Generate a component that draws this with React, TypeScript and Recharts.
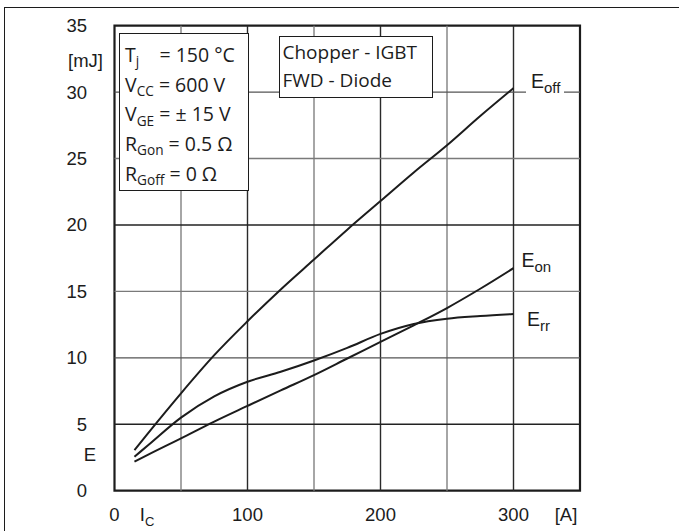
import {
  LineChart,
  Line,
  XAxis,
  YAxis,
  ReferenceLine,
  ReferenceArea,
} from 'recharts';

// collector current I_C [A]
const ic = [15, 25, 50, 75, 100, 125, 150, 175, 200, 225, 250, 275, 300];
// switching energies [mJ]
const eoff = [3.06, 4.3, 7.33, 10.2, 12.75, 15.15, 17.4, 19.65, 21.8, 23.95, 26.0, 28.2, 30.3];
const eon = [2.18, 2.7, 3.94, 5.2, 6.38, 7.55, 8.7, 9.95, 11.2, 12.45, 13.75, 15.2, 16.75];
const err = [2.56, 3.4, 5.5, 7.1, 8.2, 8.95, 9.8, 10.75, 11.8, 12.55, 12.95, 13.15, 13.3];

const xTicks = [0, 100, 200, 300];
const yTicks = [0, 5, 10, 15, 20, 25, 30, 35];
const xGrid = [50, 100, 150, 200, 250, 300];
const yGrid = [5, 10, 15, 20, 25, 30];

// where the axis names sit, in data units
const xNameAt = 25;
const xUnitAt = 339.5;
const yNameAt = 2.7;
const yUnitAt = 32.35;

const data = ic.map((x, i) => ({ ic: x, eoff: eoff[i], eon: eon[i], err: err[i] }));

const ink = '#1c1c1c';
const axisFont = '"Liberation Sans", Arial, sans-serif';
const boxFont = '"Open Sans", sans-serif';

const gridColor = (v: number, horizontal: boolean) => {
  if (horizontal) {
    if (v === 5 || v === 20) return '#222';
    if (v === 10 || v === 30) return '#555';
    return '#7a7a7a';
  }
  return v % 100 === 0 ? '#2a2a2a' : '#808080';
};

const XTick = ({ x, y, payload }: any) => {
  const v = payload.value;
  if (v === xNameAt) {
    return (
      <text x={x - 8} y={y + 24} dy="0.35em" fontSize={18.5} fontFamily={axisFont} fill={ink}>
        I<tspan fontSize={13} dy={5}>C</tspan>
      </text>
    );
  }
  return (
    <text x={x} y={y + 24} dy="0.35em" textAnchor="middle" fontSize={18.5} fontFamily={axisFont} fill={ink}>
      {v === xUnitAt ? '[A]' : v}
    </text>
  );
};

const YTick = ({ x, y, payload }: any) => {
  const v = payload.value;
  let label: string = String(v);
  let dx = -27.5;
  if (v === yUnitAt) {
    label = '[mJ]';
    dx = -11.5;
  } else if (v === yNameAt) {
    label = 'E';
    dx = -18.5;
  }
  return (
    <text x={x + dx} y={y} dy="0.35em" textAnchor="end" fontSize={18.5} fontFamily={axisFont} fill={ink}>
      {label}
    </text>
  );
};

const Sub = ({ children }: { children: any }) => (
  <span style={{ fontSize: '0.7em', position: 'relative', top: '0.32em' }}>{children}</span>
);

const CurveLabel = ({ left, top, main, sub, bg }: any) => (
  <div
    style={{
      position: 'absolute',
      left,
      top,
      fontFamily: axisFont,
      fontSize: 19.5,
      lineHeight: '19px',
      color: ink,
      background: bg ? '#fff' : 'transparent',
      padding: bg ? '2px 4px 6px 5px' : 0,
      whiteSpace: 'pre',
    }}
  >
    {main}
    <span style={{ fontSize: 15, position: 'relative', top: 5 }}>{sub}</span>
  </div>
);

export default function App() {
  return (
    <div style={{ position: 'absolute', left: 0, top: 0, width: 679, height: 531, background: '#fff' }}>
      <div
        style={{
          position: 'absolute',
          left: 4,
          top: 7,
          width: 675,
          height: 524,
          borderTop: `1.5px solid ${ink}`,
          borderLeft: `1.5px solid ${ink}`,
          boxSizing: 'border-box',
        }}
      />
      <LineChart
        width={679}
        height={531}
        data={data}
        margin={{ top: 25.7, right: 99, bottom: 10.3, left: 54.5 }}
        style={{ position: 'absolute', left: 0, top: 0 }}
      >
        <XAxis
          dataKey="ic"
          type="number"
          domain={[0, 350]}
          ticks={[...xTicks, xNameAt, xUnitAt].sort((a, b) => a - b)}
          interval={0}
          height={30}
          axisLine={false}
          tickLine={false}
          tickSize={0}
          tickMargin={0}
          tick={<XTick />}
        />
        <YAxis
          type="number"
          domain={[0, 35]}
          ticks={[...yTicks, yNameAt, yUnitAt].sort((a, b) => a - b)}
          interval={0}
          width={60}
          axisLine={false}
          tickLine={false}
          tickSize={0}
          tickMargin={0}
          tick={<YTick />}
        />
        {xGrid.map((v) => (
          <ReferenceLine key={'x' + v} x={v} stroke={gridColor(v, false)} strokeWidth={1.4} />
        ))}
        {yGrid.map((v) => (
          <ReferenceLine key={'y' + v} y={v} stroke={gridColor(v, true)} strokeWidth={1.4} />
        ))}
        <ReferenceArea x1={0} x2={350} y1={0} y2={35} fill="none" stroke={ink} strokeWidth={2.2} />
        <Line dataKey="eoff" type="monotone" stroke={ink} strokeWidth={2} dot={false} isAnimationActive={false} />
        <Line dataKey="eon" type="monotone" stroke={ink} strokeWidth={2} dot={false} isAnimationActive={false} />
        <Line dataKey="err" type="monotone" stroke={ink} strokeWidth={2} dot={false} isAnimationActive={false} />
      </LineChart>

      <div
        style={{
          position: 'absolute',
          left: 119,
          top: 33,
          width: 130,
          height: 158,
          boxSizing: 'border-box',
          border: `1.5px solid ${ink}`,
          background: '#fff',
          padding: '7px 0 0 5px',
          fontFamily: boxFont,
          fontSize: 19.5,
          lineHeight: '27.7px',
          color: ink,
          whiteSpace: 'pre',
        }}
      >
        <div>
          T<Sub>j</Sub>{'    = 150 °C'}
        </div>
        <div>
          V<Sub>CC</Sub>{' = 600 V'}
        </div>
        <div>
          V<Sub>GE</Sub>{' = ± 15 V'}
        </div>
        <div>
          R<Sub>Gon</Sub>{' = 0.5 Ω'}
        </div>
        <div>
          R<Sub>Goff</Sub>{' = 0 Ω'}
        </div>
      </div>

      <div
        style={{
          position: 'absolute',
          left: 279,
          top: 36,
          width: 154,
          height: 62,
          boxSizing: 'border-box',
          border: `1.5px solid ${ink}`,
          background: '#fff',
          padding: '1.3px 0 0 2.5px',
          fontFamily: boxFont,
          fontSize: 19,
          lineHeight: '28px',
          color: ink,
          whiteSpace: 'pre',
        }}
      >
        <div>Chopper - IGBT</div>
        <div>FWD - Diode</div>
      </div>

      <CurveLabel left={526} top={70} main="E" sub="off" bg />
      <CurveLabel left={521.5} top={250.6} main="E" sub="on" />
      <CurveLabel left={527} top={310} main="E" sub="rr" />
    </div>
  );
}
